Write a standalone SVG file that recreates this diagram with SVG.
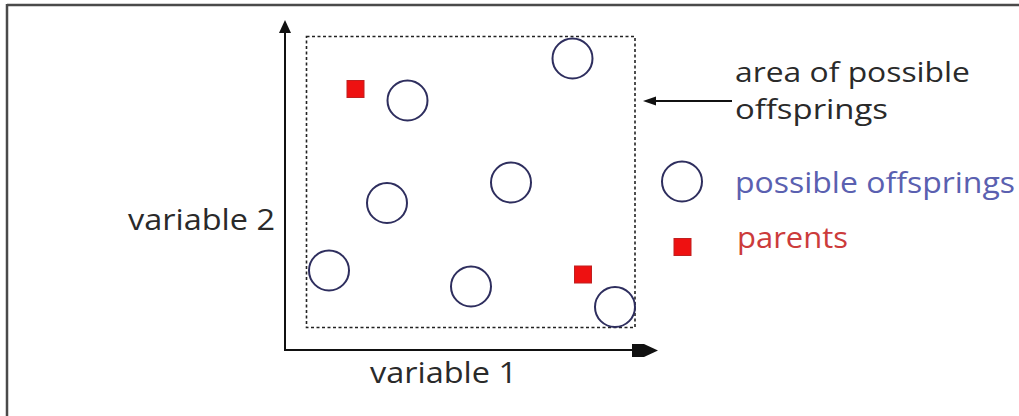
<svg xmlns="http://www.w3.org/2000/svg" width="1019" height="416" viewBox="0 0 1019 416">
<style>
.frame{stroke:#4a4a4a;stroke-width:2.5;fill:none}
.axis{stroke:#111;stroke-width:2;fill:none}
.head{fill:#111;stroke:none}
.area{stroke:#222;stroke-width:1.6;fill:none;stroke-dasharray:3 2.5}
.off{stroke:#2e2e5e;stroke-width:2;fill:none}
.par{fill:#ee1111;stroke:#c02020;stroke-width:1}
.t{font-family:"Open Sans","Liberation Sans",sans-serif;font-size:29px}
.s{font-size:27px}
.dark{fill:#2a2a2a}
.blue{fill:#5a60b0}
.red{fill:#cc3b3b}
</style>
<rect width="1019" height="416" fill="#fff"/>
<g id="frame">
<line class="frame" x1="7" y1="5" x2="1019" y2="5"/>
<line class="frame" x1="7" y1="4" x2="7" y2="416"/>
</g>
<g id="connectors">
<line class="axis" x1="285" y1="350" x2="285" y2="32"/>
<path class="head" d="M285,20 L291,33 L279,33 Z"/>
<line class="axis" x1="284" y1="350" x2="640" y2="350"/>
<path class="head" d="M632,344 L644,344 L658,350.5 L644,357 L632,357 Z"/>
<line class="axis" x1="732" y1="101" x2="652" y2="101"/>
<path class="head" d="M643,101 L656,96.5 L656,105.5 Z"/>
</g>
<g id="area">
<rect class="area" x="306.5" y="36.5" width="328.5" height="291"/>
</g>
<g id="offsprings">
<circle class="off" cx="572.5" cy="58.5" r="20"/>
<circle class="off" cx="407.5" cy="100.5" r="20"/>
<circle class="off" cx="511" cy="182.5" r="20"/>
<circle class="off" cx="387" cy="203" r="20"/>
<circle class="off" cx="329" cy="270.5" r="20"/>
<circle class="off" cx="471" cy="286.5" r="20"/>
<circle class="off" cx="615" cy="307" r="20"/>
</g>
<g id="parents">
<rect class="par" x="347" y="80.5" width="17" height="17"/>
<rect class="par" x="574.5" y="266" width="17" height="17"/>
</g>
<g id="labels">
<text class="t dark" x="128" y="230" textLength="147" lengthAdjust="spacingAndGlyphs">variable 2</text>
<text class="t dark" x="370" y="383" textLength="147" lengthAdjust="spacingAndGlyphs">variable 1</text>
</g>
<g id="legend-area">
<text class="t s dark" x="735" y="82" textLength="235" lengthAdjust="spacingAndGlyphs">area of possible</text>
<text class="t s dark" x="735" y="119" textLength="153" lengthAdjust="spacingAndGlyphs">offsprings</text>
</g>
<g id="legend-offspring">
<circle class="off" cx="682" cy="181.5" r="20"/>
<text class="t blue" x="735" y="193" textLength="280" lengthAdjust="spacingAndGlyphs">possible offsprings</text>
</g>
<g id="legend-parents">
<rect class="par" x="674" y="238.5" width="17" height="17"/>
<text class="t red" x="737" y="248" textLength="111" lengthAdjust="spacingAndGlyphs">parents</text>
</g>
</svg>
